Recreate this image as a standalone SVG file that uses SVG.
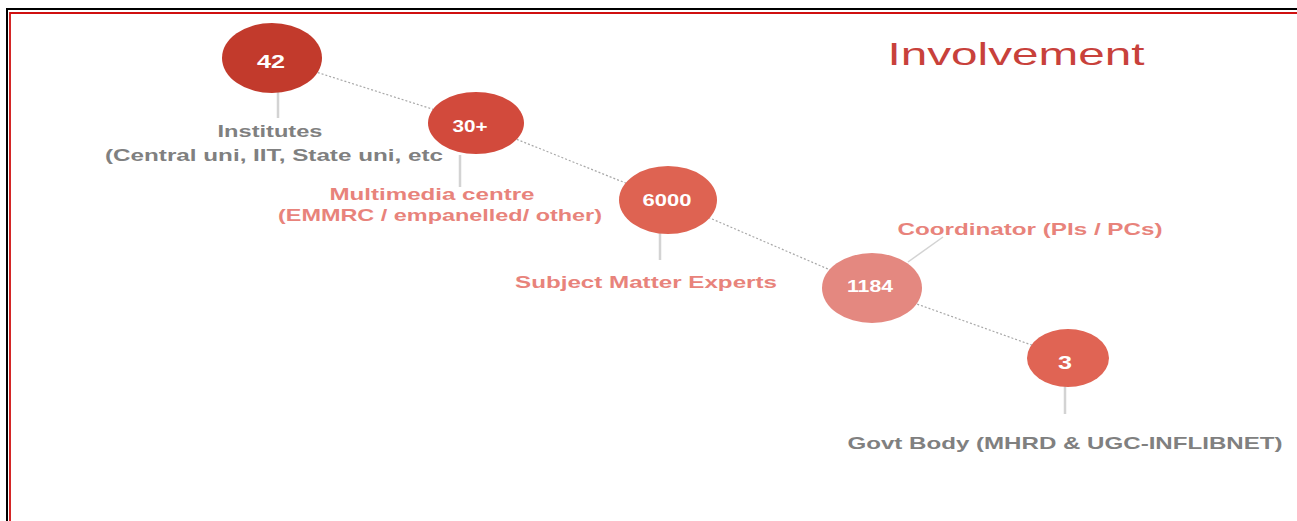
<svg xmlns="http://www.w3.org/2000/svg" width="1297" height="521" viewBox="0 0 1297 521">
<style>
.lbl{font-family:"Liberation Sans",Arial,sans-serif;font-weight:bold;text-anchor:middle}
.gray{fill:#808080;font-size:17px}
.pink{fill:#E8837B;font-size:17px}
.num{fill:#ffffff;font-family:"Liberation Sans",Arial,sans-serif;font-weight:bold;text-anchor:middle}
.stem{stroke:#D3D3D3;stroke-width:2.5;fill:none}
.dot{stroke:#A8A8A8;stroke-width:1.2;stroke-dasharray:2 2;fill:none}
</style>
<rect width="1297" height="521" fill="#ffffff"/>
<g id="border">
<path d="M7 521 V9 H1297" fill="none" stroke="#000000" stroke-width="2"/>
<path d="M10 521 V13 H1297" fill="none" stroke="#D01010" stroke-width="1.8"/>
</g>
<g id="connectors">
<line class="dot" x1="272" y1="58" x2="476" y2="123"/>
<line class="dot" x1="476" y1="123" x2="668" y2="200"/>
<line class="dot" x1="668" y1="200" x2="872" y2="288"/>
<line class="dot" x1="872" y1="288" x2="1068" y2="358"/>
<line class="stem" x1="278" y1="92" x2="278" y2="118"/>
<line class="stem" x1="460" y1="155" x2="460" y2="187"/>
<line class="stem" x1="660" y1="232" x2="660" y2="260"/>
<line class="stem" x1="908" y1="262" x2="943" y2="237" style="stroke-width:1.5"/>
<line class="stem" x1="1065" y1="385" x2="1065" y2="414"/>
</g>
<g id="title">
<text x="1016" y="65" textLength="257" lengthAdjust="spacingAndGlyphs" style="font-family:'Liberation Sans',Arial,sans-serif;font-size:32px;fill:#C8413B;text-anchor:middle">Involvement</text>
</g>
<g id="node-42">
<ellipse cx="272" cy="58" rx="50" ry="35" fill="#C23A2C"/>
<text class="num" x="271" y="68" font-size="18" textLength="28" lengthAdjust="spacingAndGlyphs">42</text>
<text class="lbl gray" x="270" y="137" textLength="105" lengthAdjust="spacingAndGlyphs">Institutes</text>
<text class="lbl gray" x="274" y="161" textLength="338" lengthAdjust="spacingAndGlyphs">(Central uni, IIT, State uni, etc</text>
</g>
<g id="node-30">
<ellipse cx="476" cy="123" rx="48" ry="31" fill="#D24A3C"/>
<text class="num" x="470" y="132" font-size="16" textLength="35" lengthAdjust="spacingAndGlyphs">30+</text>
<text class="lbl pink" x="432" y="200" textLength="205" lengthAdjust="spacingAndGlyphs">Multimedia centre</text>
<text class="lbl pink" x="440" y="221" textLength="324" lengthAdjust="spacingAndGlyphs">(EMMRC / empanelled/ other)</text>
</g>
<g id="node-6000">
<ellipse cx="668" cy="200" rx="49" ry="34" fill="#DE6352"/>
<text class="num" x="667" y="206" font-size="17" textLength="49" lengthAdjust="spacingAndGlyphs">6000</text>
<text class="lbl pink" x="646" y="288" textLength="262" lengthAdjust="spacingAndGlyphs">Subject Matter Experts</text>
</g>
<g id="node-1184">
<ellipse cx="872" cy="288" rx="50" ry="35" fill="#E48880"/>
<text class="num" x="870" y="292" font-size="17" textLength="46" lengthAdjust="spacingAndGlyphs">1184</text>
<text class="lbl pink" x="1030" y="235" textLength="265" lengthAdjust="spacingAndGlyphs">Coordinator (PIs / PCs)</text>
</g>
<g id="node-3">
<ellipse cx="1068" cy="358" rx="41" ry="29" fill="#E06454"/>
<text class="num" x="1065" y="369" font-size="19" textLength="14" lengthAdjust="spacingAndGlyphs">3</text>
<text class="lbl gray" x="1065" y="449" textLength="435" lengthAdjust="spacingAndGlyphs">Govt Body (MHRD &amp; UGC-INFLIBNET)</text>
</g>
</svg>
